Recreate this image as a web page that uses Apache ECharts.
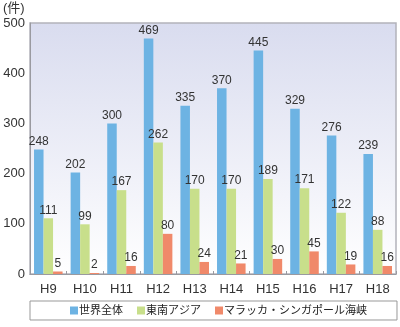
<!DOCTYPE html>
<html><head><meta charset="utf-8">
<script src="https://cdn.jsdelivr.net/npm/echarts@6/dist/echarts.min.js"></script>
<style>html,body{margin:0;padding:0;background:#fff}#c{width:400px;height:327px}</style>
</head><body><div id="c"></div>
<script>
const categories = ['H9','H10','H11','H12','H13','H14','H15','H16','H17','H18'];
const seriesNames = ['世界全体','東南アジア','マラッカ・シンガポール海峡'];
const world = [248,202,300,469,335,370,445,329,276,239];
const seAsia = [111,99,167,262,170,170,189,171,122,88];
const malacca = [5,2,16,80,24,21,30,45,19,16];
const yTicks = [0,100,200,300,400,500];
const unitLabel = '(件)';

const colors = ['#6db3e3','#c8df8b','#f0896a'];
const font = '"Liberation Sans","Noto Sans CJK JP",sans-serif';
const chart = echarts.init(document.getElementById('c'));
const vals = [world, seAsia, malacca];
chart.setOption({
  animation:false,
  textStyle:{fontFamily:font},
  grid:{left:30,right:4,top:23,bottom:53,show:true,borderColor:'#b2b3bb',borderWidth:1.5,
    backgroundColor:new echarts.graphic.LinearGradient(0,0,0,1,[{offset:0,color:'#d9dcef'},{offset:1,color:'#ffffff'}])},
  xAxis:{type:'category',data:categories,
    axisLine:{lineStyle:{color:'#9a9aa0'}},
    axisTick:{show:true,inside:true,length:3,lineStyle:{color:'#9a9aa0'}},
    axisLabel:{color:'#333',fontSize:13,margin:9,fontFamily:font}},
  yAxis:{type:'value',min:yTicks[0],max:yTicks[yTicks.length-1],interval:100,
    axisLine:{show:true,lineStyle:{color:'#9a9aa0'}},axisTick:{show:false},
    splitLine:{show:false},
    axisLabel:{color:'#333',fontSize:13,margin:5,fontFamily:font}},
  legend:{top:301,left:30,itemWidth:8,itemHeight:8,itemGap:14,icon:'rect',
    padding:[4,30,4,40],borderColor:'#999',borderWidth:1,
    textStyle:{fontSize:11,color:'#222',fontFamily:font,padding:[0,0,0,-4]},data:seriesNames},
  graphic:[
    {type:'text',left:3,top:2,style:{text:unitLabel,fontSize:13,fill:'#333',fontFamily:font}}
  ],
  series: vals.map((v,i)=>({
    name:seriesNames[i],type:'bar',data:v,barGap:'0%',barCategoryGap:'22%',
    itemStyle:{color:colors[i]},
    label:{show:true,position:'top',distance:2,color:'#333',fontSize:12,fontFamily:font}
  }))
});
</script></body></html>
